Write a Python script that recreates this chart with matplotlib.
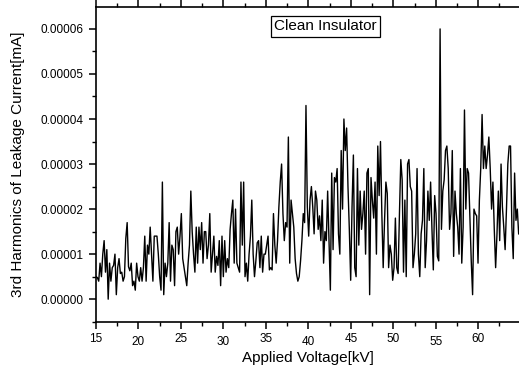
import numpy as np
import matplotlib
matplotlib.use("Agg")
import matplotlib.pyplot as plt
from matplotlib.ticker import MultipleLocator, FormatStrFormatter
import matplotlib.transforms as mtransforms

plt.rcParams['font.family'] = ['Liberation Sans', 'DejaVu Sans']

# 3rd harmonic of leakage current, in units of 1e-5 mA, sampled uniformly
# over the applied-voltage sweep
harmonic_e5 = [
    0.5, 0.48, 0.4, 0.8, 0.5, 1.0, 1.3, 0.6, 1.1, 0.0,
    0.8, 0.4, 0.7, 0.75, 1.0, 0.1, 0.7, 0.9, 0.57, 0.6,
    0.4, 0.5, 1.35, 1.7, 0.72, 0.63, 0.8, 0.3, 0.4, 0.2,
    0.8, 0.5, 0.4, 0.7, 0.4, 0.7, 1.4, 0.4, 1.2, 1.0,
    1.6, 1.0, 0.4, 1.4, 1.4, 1.4, 1.0, 0.5, 0.2, 2.6,
    0.1, 0.8, 0.5, 0.8, 1.7, 0.4, 1.2, 1.1, 0.3, 1.5,
    1.6, 1.0, 1.4, 1.9, 0.9, 0.7, 0.5, 0.3, 0.8, 1.2,
    2.4, 1.5, 1.0, 0.6, 1.6, 0.8, 1.6, 1.1, 1.7, 0.8,
    1.5, 1.5, 0.9, 1.2, 1.9,
    0.6, 1.0, 1.4, 0.6, 0.95, 0.75, 1.3, 0.3, 1.4, 0.5,
    1.3, 0.6, 0.9, 0.7, 1.55, 1.9, 2.2, 0.8, 2.0, 0.8,
    0.7, 0.6, 2.6, 1.2, 2.6, 0.5, 0.8, 0.4, 1.0, 1.4,
    2.2, 1.0, 0.5, 0.85, 1.25, 1.3, 0.7, 1.4, 0.6, 1.0,
    1.0, 1.2, 1.4, 0.65, 0.7, 0.65, 1.9, 1.2, 0.8, 1.3,
    2.05, 2.6, 3.0, 1.9, 1.3, 1.7, 1.6, 3.6, 0.8, 2.2,
    1.9, 1.6, 0.9, 0.57, 0.4, 0.5, 0.85, 1.3, 1.9, 1.7,
    4.3, 2.05, 1.4, 2.2, 2.5, 2.05, 1.45, 2.4, 2.2, 1.55,
    1.85, 1.3, 2.2, 0.8, 1.5, 1.3, 2.4, 1.3, 0.2, 2.8,
    1.1, 2.7, 2.6, 2.9, 1.45, 1.0, 3.3, 2.0, 4.0, 3.3,
    3.8, 2.5, 1.55, 0.42, 2.05, 3.2, 0.7, 0.5,
    2.9, 1.2, 2.4, 1.55, 1.9, 2.4, 1.0, 2.8, 2.9, 0.1,
    2.7, 2.2, 1.8, 2.6, 1.0, 3.4, 2.3, 3.5, 1.9, 0.7,
    1.75, 2.6, 2.35, 0.7, 1.2, 1.0, 0.42, 0.7, 1.8, 0.7,
    0.57, 1.9, 3.1, 2.65, 0.6, 2.2, 0.5, 3.0, 3.1, 2.5,
    2.4, 0.7, 1.0, 1.45, 2.9, 1.0, 0.5, 1.45, 1.75, 2.9,
    0.7, 1.3, 2.4, 1.75, 2.6, 1.55, 0.65, 2.3, 1.9, 0.95,
    0.85, 6.0, 1.55, 2.4, 2.65, 3.3, 3.4, 2.9, 1.55, 1.9,
    3.3, 0.95, 2.4, 1.9, 1.6, 1.0, 2.9, 0.8, 1.6, 4.2,
    2.0, 2.9, 2.8, 1.8, 0.85, 0.1, 2.0, 1.9, 1.85, 0.8,
    2.2, 2.9, 4.1, 2.9, 3.4, 2.9, 3.2, 3.6, 2.9, 2.0,
    2.6, 1.55, 0.7, 1.45, 2.4, 1.3, 3.0, 2.05, 1.6, 1.1,
    2.0, 3.0, 3.4, 3.4, 1.6, 0.9, 2.8, 1.75, 2.0, 1.45,
]
voltage_start_kv = 15.0
voltage_end_kv = 64.76

x_tick_values = [15, 20, 25, 30, 35, 40, 45, 50, 55, 60]
x_tick_lowered = [20, 30, 40, 55]

current = np.array(harmonic_e5) * 1e-5
voltage = np.linspace(voltage_start_kv, voltage_end_kv, len(current))

fig = plt.figure(figsize=(5.19, 3.71), dpi=100)
ax = fig.add_axes([96 / 519, 1 - 321.7 / 371, 1 - 96 / 519, (321.7 - 7.3) / 371])

ax.plot(voltage, current, color='black', lw=1.0)

ax.set_xlim(15, 64.8)
ax.set_ylim(-0.5e-5, 6.48e-5)

ax.spines['right'].set_visible(False)
for s in ('left', 'bottom', 'top'):
    ax.spines[s].set_linewidth(1.2)

ax.xaxis.set_major_locator(MultipleLocator(5))
ax.xaxis.set_minor_locator(MultipleLocator(2.5))
ax.yaxis.set_major_locator(MultipleLocator(1e-5))
ax.yaxis.set_minor_locator(MultipleLocator(0.5e-5))
ax.yaxis.set_major_formatter(FormatStrFormatter('%.5f'))

ax.tick_params(axis='both', which='major', direction='out', length=5, width=1.1)
ax.tick_params(axis='both', which='minor', direction='out', length=3, width=1.0)
ax.tick_params(axis='x', which='both', top=True, labelbottom=False)
ax.tick_params(axis='y', which='major', pad=4, labelsize=8.5)

# x tick labels, drawn with the slight up/down stagger
trans = mtransforms.blended_transform_factory(ax.transData, ax.transAxes)
for v in x_tick_values:
    dy = -1.8 / 72 if v in x_tick_lowered else 0.0
    offset = mtransforms.ScaledTranslation(0, dy, fig.dpi_scale_trans)
    ax.text(v, -0.036, str(v), transform=trans + offset, ha='center', va='top',
            fontsize=8.5)

ax.set_xlabel('Applied Voltage[kV]', fontsize=11)
ax.xaxis.set_label_coords(0.5, -0.094)
ax.set_ylabel('3rd Harmonics of Leakage Current[mA]', fontsize=11, labelpad=11)

# caption box, placed in pixel coordinates
ax.text(325.5, 371 - 26.5, 'Clean Insulator', transform=None, fontsize=11,
        ha='center', va='center',
        bbox=dict(boxstyle='square,pad=0.2', facecolor='white',
                  edgecolor='black', lw=0.9))

fig.savefig('out.png', dpi=100)
